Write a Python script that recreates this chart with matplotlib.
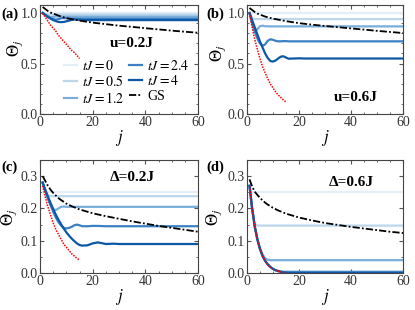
import matplotlib
matplotlib.use("Agg")
import matplotlib.pyplot as plt
from matplotlib.ticker import MultipleLocator

plt.rcParams['font.family'] = ['Liberation Serif', 'DejaVu Serif']
plt.rcParams['mathtext.fontset'] = 'stix'

# sample sites j (dense where curves move, sparse on the plateaus)
J = [1, 2, 3, 4, 5, 6, 7, 8, 9, 10, 11, 12, 13, 14, 15, 16, 18, 20, 22, 25,
     28, 30, 35, 40, 45, 50, 55, 60]
J_RED = [1, 2, 3, 4, 5, 6, 7, 8, 9, 10, 11, 12, 13, 14, 15]
J_GS = [1, 2, 3, 4, 5, 6, 7, 8, 10, 12, 15, 20, 25, 30, 35, 40, 45, 50, 55, 60]

TJ_LABELS = ["$tJ=0$", "$tJ=0.5$", "$tJ=1.2$", "$tJ=2.4$", "$tJ=4$"]
TJ_COLORS = ['#e4eef8', '#bcd6eb', '#78aed9', '#3b80c3', '#0c58a6']

# ---- panel (a), u = 0.2J
a_t0 = [1.0] * 28
a_t05 = [1.0, 0.99, 0.985, 0.985, 0.985, 0.985, 0.985, 0.985, 0.985, 0.985, 0.985, 0.985,
         0.985, 0.985, 0.985, 0.985, 0.985, 0.985, 0.985, 0.985, 0.985, 0.985, 0.985,
         0.985, 0.985, 0.985, 0.985, 0.985]
a_t12 = [1.0, 0.985, 0.97, 0.96, 0.962, 0.966, 0.967, 0.966, 0.965, 0.965, 0.965, 0.965,
         0.965, 0.965, 0.965, 0.965, 0.965, 0.965, 0.965, 0.965, 0.965, 0.965, 0.965,
         0.965, 0.965, 0.965, 0.965, 0.965]
a_t24 = [1.0, 0.98, 0.965, 0.95, 0.94, 0.935, 0.94, 0.948, 0.95, 0.948, 0.946, 0.945,
         0.945, 0.945, 0.945, 0.945, 0.945, 0.945, 0.945, 0.945, 0.945, 0.945, 0.945,
         0.945, 0.945, 0.945, 0.945, 0.945]
a_t4 = [1.0, 0.98, 0.96, 0.945, 0.93, 0.92, 0.912, 0.91, 0.912, 0.918, 0.925, 0.932,
        0.936, 0.935, 0.932, 0.93, 0.93, 0.93, 0.93, 0.93, 0.93, 0.93, 0.93,
        0.93, 0.93, 0.93, 0.93, 0.93]
a_red = [1.0, 0.96, 0.92, 0.88, 0.85, 0.82, 0.78, 0.75, 0.72, 0.69, 0.66, 0.63,
         0.61, 0.58, 0.55]
a_gs = [1.06, 1.04, 1.02, 1.005, 0.995, 0.985, 0.975, 0.965, 0.95, 0.94, 0.925,
        0.905, 0.89, 0.875, 0.863, 0.85, 0.838, 0.826, 0.815, 0.805]

# ---- panel (b), u = 0.6J
b_t0 = [1.0] * 28
b_t05 = [1.0, 0.95, 0.94, 0.94, 0.94, 0.94, 0.94, 0.94, 0.94, 0.94, 0.94, 0.94,
         0.94, 0.94, 0.94, 0.94, 0.94, 0.94, 0.94, 0.94, 0.94, 0.94, 0.94,
         0.94, 0.94, 0.94, 0.94, 0.94]
b_t12 = [1.0, 0.9, 0.82, 0.84, 0.87, 0.875, 0.87, 0.868, 0.868, 0.868, 0.868, 0.868,
         0.868, 0.868, 0.868, 0.868, 0.868, 0.868, 0.868, 0.868, 0.868, 0.868, 0.868,
         0.868, 0.868, 0.868, 0.868, 0.868]
b_t24 = [1.0, 0.9, 0.82, 0.75, 0.7, 0.675, 0.69, 0.725, 0.74, 0.735, 0.725, 0.72,
         0.72, 0.722, 0.722, 0.72, 0.72, 0.72, 0.72, 0.72, 0.72, 0.72, 0.72,
         0.72, 0.72, 0.72, 0.72, 0.72]
b_t4 = [1.0, 0.93, 0.86, 0.79, 0.72, 0.66, 0.6, 0.555, 0.525, 0.52, 0.53, 0.55,
        0.568, 0.572, 0.56, 0.548, 0.55, 0.552, 0.55, 0.55, 0.55, 0.55, 0.55,
        0.55, 0.55, 0.55, 0.55, 0.55]
b_red = [1.0, 0.86, 0.74, 0.64, 0.55, 0.47, 0.41, 0.35, 0.3, 0.26, 0.22, 0.19,
         0.165, 0.14, 0.12]
b_gs = [1.05, 1.03, 1.01, 0.995, 0.985, 0.975, 0.965, 0.958, 0.945, 0.935, 0.92,
        0.9, 0.885, 0.872, 0.86, 0.848, 0.836, 0.824, 0.813, 0.802]

# ---- panel (c), Delta = 0.2J
c_t0 = [0.25] * 28
c_t05 = [0.28, 0.25, 0.24, 0.238, 0.238, 0.238, 0.238, 0.238, 0.238, 0.238, 0.238, 0.238,
         0.238, 0.238, 0.238, 0.238, 0.238, 0.238, 0.238, 0.238, 0.238, 0.238, 0.238,
         0.238, 0.238, 0.238, 0.238, 0.238]
c_t12 = [0.28, 0.255, 0.232, 0.212, 0.198, 0.195, 0.2, 0.205, 0.206, 0.205, 0.205, 0.205,
         0.205, 0.205, 0.205, 0.205, 0.205, 0.205, 0.205, 0.205, 0.205, 0.205, 0.205,
         0.205, 0.205, 0.205, 0.205, 0.205]
c_t24 = [0.28, 0.255, 0.23, 0.21, 0.19, 0.172, 0.158, 0.147, 0.14, 0.138, 0.14, 0.143,
         0.148, 0.15, 0.148, 0.145, 0.145, 0.146, 0.146, 0.145, 0.145, 0.145, 0.145,
         0.145, 0.145, 0.145, 0.145, 0.145]
c_t4 = [0.28, 0.258, 0.237, 0.217, 0.198, 0.181, 0.165, 0.151, 0.138, 0.126, 0.116, 0.107,
        0.099, 0.092, 0.087, 0.085, 0.086, 0.092, 0.095, 0.09, 0.091, 0.09, 0.09,
        0.09, 0.09, 0.09, 0.09, 0.09]
c_red = [0.27, 0.235, 0.205, 0.18, 0.155, 0.135, 0.12, 0.105, 0.09, 0.08, 0.07, 0.06,
         0.053, 0.046, 0.04]
c_gs = [0.3, 0.285, 0.27, 0.258, 0.248, 0.24, 0.232, 0.226, 0.215, 0.207, 0.197,
        0.185, 0.176, 0.168, 0.16, 0.153, 0.146, 0.14, 0.134, 0.128]

# ---- panel (d), Delta = 0.6J
d_t0 = [0.25] * 28
d_t05 = [0.27, 0.2, 0.152, 0.147, 0.147, 0.147, 0.147, 0.147, 0.147, 0.147, 0.147, 0.147,
         0.147, 0.147, 0.147, 0.147, 0.147, 0.147, 0.147, 0.147, 0.147, 0.147, 0.147,
         0.147, 0.147, 0.147, 0.147, 0.147]
d_t12 = [0.27, 0.2, 0.145, 0.105, 0.077, 0.058, 0.046, 0.041, 0.04, 0.04, 0.04, 0.04,
         0.04, 0.04, 0.04, 0.04, 0.04, 0.04, 0.04, 0.04, 0.04, 0.04, 0.04,
         0.04, 0.04, 0.04, 0.04, 0.04]
d_t24 = [0.27, 0.2, 0.145, 0.105, 0.075, 0.053, 0.038, 0.027, 0.019, 0.013, 0.009, 0.007,
         0.005, 0.004, 0.004, 0.004, 0.004, 0.004, 0.004, 0.004, 0.004, 0.004, 0.004,
         0.004, 0.004, 0.004, 0.004, 0.004]
d_t4 = [0.27, 0.2, 0.145, 0.105, 0.075, 0.053, 0.038, 0.027, 0.019, 0.013, 0.009, 0.006,
        0.004, 0.002, 0.001, 0.0, 0.0, 0.0, 0.0, 0.0, 0.0, 0.0, 0.0,
        0.0, 0.0, 0.0, 0.0, 0.0]
d_red = [0.27, 0.2, 0.145, 0.105, 0.075, 0.053, 0.038, 0.027, 0.019, 0.013, 0.009, 0.006,
         0.004, 0.002, 0.001]
d_gs = [0.29, 0.268, 0.252, 0.242, 0.233, 0.225, 0.218, 0.212, 0.202, 0.194, 0.184,
        0.172, 0.163, 0.155, 0.149, 0.143, 0.138, 0.133, 0.128, 0.124]

PANELS = [
    ("(a)", "u=0.2J", [a_t0, a_t05, a_t12, a_t24, a_t4], a_red, a_gs, 1.08, 0.5, 0.1, (35, 0.70)),
    ("(b)", "u=0.6J", [b_t0, b_t05, b_t12, b_t24, b_t4], b_red, b_gs, 1.08, 0.5, 0.1, (42, 0.16)),
    ("(c)", "Δ=0.2J", [c_t0, c_t05, c_t12, c_t24, c_t4], c_red, c_gs, 0.35, 0.1, 0.05, (35, 0.295)),
    ("(d)", "Δ=0.6J", [d_t0, d_t05, d_t12, d_t24, d_t4], d_red, d_gs, 0.35, 0.1, 0.05, (40, 0.28)),
]

# axes boxes in figure fraction: left, bottom, width, height
BOXES = [
    (0.0964, 0.632, 0.381, 0.352),
    (0.595, 0.632, 0.376, 0.352),
    (0.0964, 0.119, 0.381, 0.365),
    (0.595, 0.119, 0.376, 0.365),
]
TAG_POS = [(0.003, 0.955), (0.497, 0.955), (0.003, 0.462), (0.497, 0.462)]
# right edge of the rotated y label (axes fraction)
YLAB_POS = [(-0.095, 0.6), (-0.12, 0.56), (-0.13, 0.49), (-0.15, 0.49)]

fig = plt.figure(figsize=(4.15, 3.10), dpi=100)

for k, (tag, note, series, red, gs, ytop, ymaj, ymin, npos) in enumerate(PANELS):
    ax = fig.add_axes(BOXES[k])
    for vals, col, lab in zip(series, TJ_COLORS, TJ_LABELS):
        ax.plot(J, vals, color=col, lw=1.6, label=lab, zorder=2)
    ax.plot(J_GS, gs, color='black', lw=1.3, ls=(0, (4, 1.2, 1, 1.2)), label='GS', zorder=3)
    ax.plot(J_RED, red, color='red', lw=1.1, ls=(0, (1, 0.8)), zorder=4)

    ax.set_xlim(0, 60)
    ax.set_ylim(0, ytop)
    ax.xaxis.set_major_locator(MultipleLocator(20))
    ax.xaxis.set_minor_locator(MultipleLocator(5))
    ax.yaxis.set_major_locator(MultipleLocator(ymaj))
    ax.yaxis.set_minor_locator(MultipleLocator(ymin))
    ax.tick_params(which='both', direction='in', top=True, right=True, labelsize=10,
                   pad=1.5, color='#555555', labelcolor='#333333')
    ax.tick_params(which='major', length=3)
    ax.tick_params(which='minor', length=1.5)
    for sp in ax.spines.values():
        sp.set_color('#444444')
        sp.set_linewidth(0.8)

    ax.set_xlabel("$j$", fontsize=12, labelpad=-1)
    ax.set_ylabel(r"$\Theta_j$", fontsize=12)
    ax.yaxis.set_label_coords(*YLAB_POS[k])
    ax.text(npos[0], npos[1], note, fontsize=11, fontweight='bold', ha='center', va='center')
    fig.text(TAG_POS[k][0], TAG_POS[k][1], tag, fontsize=10.5, fontweight='bold',
             ha='left', va='center')

    if k == 0:
        ax.legend(loc='lower center', bbox_to_anchor=(0.55, 0.0), ncol=2, frameon=False,
                  fontsize=10, handlelength=0.9, handletextpad=0.4, columnspacing=0.3,
                  labelspacing=0.1, borderpad=0.1)

fig.savefig("out.png", dpi=100)
